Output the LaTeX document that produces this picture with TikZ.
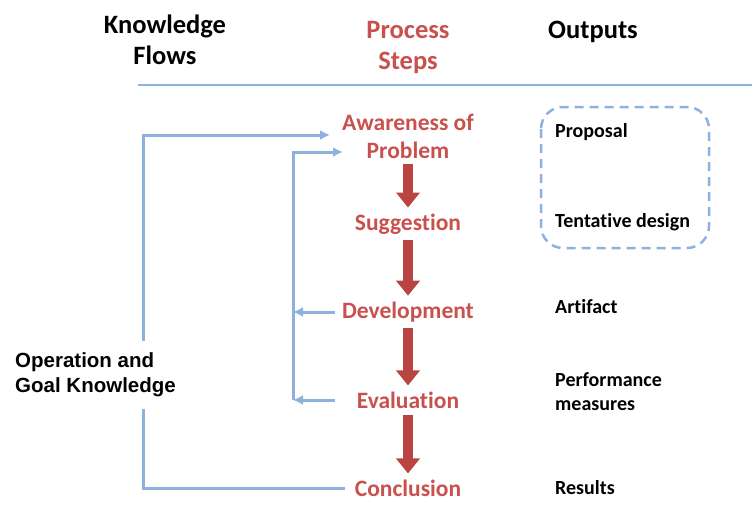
\documentclass[tikz,border=0pt]{standalone}
\usepackage{fontspec}
\setmainfont{Carlito}[Ligatures=NoCommon]
\newfontfamily\arialfont{Liberation Sans}
\usetikzlibrary{arrows.meta,positioning}
\definecolor{stepred}{RGB}{200,80,77}
\definecolor{arrowred}{RGB}{186,68,66}
\definecolor{flowblue}{RGB}{141,178,222}

\begin{document}
\begin{tikzpicture}[x=1pt,y=-1pt,node distance=88pt]
	\tikzset{head/.style={font=\fontsize{26.5}{31}\selectfont\bfseries,align=center}}
	\tikzset{stage/.style={font=\fontsize{23.5}{28}\selectfont\bfseries,text=stepred,align=center,inner sep=0pt}}
	\tikzset{outlbl/.style={font=\fontsize{20}{24}\selectfont\bfseries,anchor=west,align=left,inner sep=0pt}}
	\tikzset{flow/.style={draw=flowblue,line width=3pt}}
	\tikzset{flowtip/.style={flow,-{Latex[length=10pt,width=10pt]}}}
	\tikzset{down/.style={draw=arrowred,line width=10pt,-{Triangle[length=15pt,width=23pt]},shorten <=6pt,shorten >=6pt}}
	\useasboundingbox (0,0) rectangle (752,512);

	% column heads
	\node[head]				(kf)	at (165,40)		{Knowledge\\Flows};
	\node[head,text=stepred]	(ps)	at (408,47)		{Process\\Steps};
	\node[head]				(outs)	at (593,32)		{Outputs};
	\draw[flow,line width=2.5pt] (138,85) -- (752,85);

	% process steps
	\node[stage]	(aware)	at (408,136)		{Awareness of\\Problem};
	\node[stage]	(sugg)	[below of=aware]	{Suggestion};
	\node[stage]	(dev)	[below of=sugg]		{Development};
	\node[stage]	(eval)	[below of=dev]		{Evaluation};
	\node[stage]	(concl)	[below of=eval]		{Conclusion};

	\path
		(aware)	edge[down]	(sugg)
		(sugg)	edge[down]	(dev)
		(dev)	edge[down]	(eval)
		(eval)	edge[down]	(concl)
		;

	% outputs
	\node[outlbl]	(prop)	at (555,132)	{Proposal};
	\node[outlbl]	(tent)	at (555,222)	{Tentative design};
	\node[outlbl]	(art)	at (555,307)	{Artifact};
	\node[outlbl]	(perf)	at (555,392)	{Performance\\measures};
	\node[outlbl]	(res)	at (555,488)	{Results};
	\draw[flow,line width=2.5pt,dash pattern=on 9pt off 6pt,rounded corners=22pt] (541,107) rectangle (709,248);

	% knowledge flows
	\node[font=\arialfont\bfseries\fontsize{20.5}{25}\selectfont,align=left,anchor=west,inner xsep=0pt,inner ysep=12pt]
		(ops) at (15,375) {Operation and\\Goal Knowledge};
	\coordinate (outer)	at (143,135);
	\coordinate (topin)	at (330,135);
	\coordinate (rail)	at (293,152);
	\coordinate (lowin)	at (343,152);
	\coordinate (retcol)	at (335,0);

	\draw[flow]		([xshift=-10pt]concl.west) -| (ops.south -| outer);
	\draw[flowtip]	(ops.north -| outer) -- (outer) -- (topin);
	\draw[flowtip]	(retcol |- dev) -- (rail |- dev);
	\draw[flowtip]	(retcol |- eval) -- (rail |- eval);
	\draw[flowtip]	(rail |- eval) -- (rail) -- (lowin);
\end{tikzpicture}
\end{document}
